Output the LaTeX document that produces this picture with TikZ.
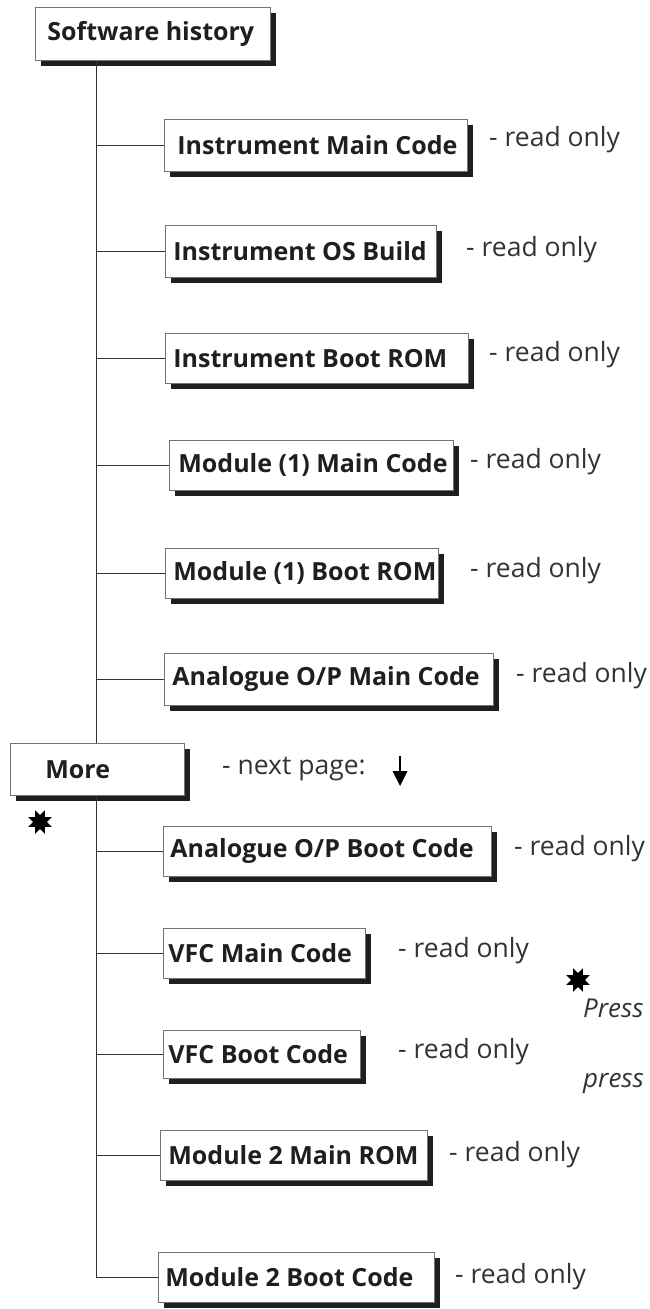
\documentclass[tikz,border=0pt]{standalone}
\usepackage{fontspec}
\setmainfont{Open Sans}
\usetikzlibrary{shadows,shapes.geometric,arrows.meta}
\begin{document}
\begin{tikzpicture}[x=1pt,y=-1pt,
  sbox/.style={draw=black!55, line width=0.8pt, fill=white, anchor=north west,
    inner ysep=0pt, inner xsep=#1,
    font=\fontsize{25}{30}\selectfont\bfseries, text=black!88,
    drop shadow={shadow xshift=6pt, shadow yshift=-6pt, fill=black!88, opacity=1}},
  ro/.style={anchor=west, inner sep=0pt, font=\fontsize{26.5}{30}\selectfont, text=black!80},
  note/.style={anchor=west, inner sep=0pt, font=\fontsize{26}{30}\selectfont\itshape, text=black!80},
  conn/.style={draw=black!80, line width=0.8pt},
  asterisk/.style={star, star points=8, star point ratio=0.55, fill=black, draw=none, minimum size=14pt, inner sep=0pt}
]
\useasboundingbox (0,0) rectangle (650,1309);
\clip (0,0) rectangle (650,1309);
\coordinate (tr) at (96,0);

\node[sbox=12pt, minimum height=53pt] (SH) at (35,7) {\makebox[211pt][l]{Software history}};

\node[sbox=13pt, minimum height=52pt] (IMC) at (164,119) {\makebox[277pt][l]{Instrument Main Code}};
\node[sbox=8pt, minimum height=52pt] (IOSB) at (165,225) {\makebox[255pt][l]{Instrument OS Build}};
\node[sbox=8pt, minimum height=50pt] (IBR) at (165,333) {\makebox[287pt][l]{Instrument Boot ROM}};
\node[sbox=9pt, minimum height=50pt] (M1MC) at (169,440) {\makebox[266pt][l]{Module (1) Main Code}};
\node[sbox=8pt, minimum height=50pt] (M1BR) at (165,548) {\makebox[257pt][l]{Module (1) Boot ROM}};
\node[sbox=8pt, minimum height=52pt] (AOMC) at (164,653) {\makebox[313pt][l]{Analogue O/P Main Code}};
\node[sbox=35pt, minimum height=52pt] (More) at (10,743) {\makebox[104pt][l]{More}};
\node[sbox=7pt, minimum height=50pt] (AOBC) at (163,826) {\makebox[314pt][l]{Analogue O/P Boot Code}};
\node[sbox=5pt, minimum height=50pt] (VFCMC) at (163,928) {\makebox[192pt][l]{VFC Main Code}};
\node[sbox=5pt, minimum height=48pt] (VFCBC) at (163,1030) {\makebox[187pt][l]{VFC Boot Code}};
\node[sbox=8pt, minimum height=50pt] (M2MR) at (160,1130) {\makebox[251pt][l]{Module 2 Main ROM}};
\node[sbox=7pt, minimum height=50pt] (M2BC) at (158,1252) {\makebox[262pt][l]{Module 2 Boot Code}};

% trunk and branches
\draw[conn] (SH.south -| tr) -- (More.north -| tr);
\foreach \n in {IMC,IOSB,IBR,M1MC,M1BR,AOMC,AOBC,VFCMC,VFCBC,M2MR}
  \draw[conn] (\n.west -| tr) -- (\n.west);
\draw[conn] (More.south -| tr) -- (M2BC.west -| tr) -- (M2BC.west);

% read only labels
\node[ro] (r1) at (489,140) {- read only};
\node[ro] (r2) at (466,250) {- read only};
\node[ro] (r3) at (489,355) {- read only};
\node[ro] (r4) at (470,462) {- read only};
\node[ro] (r5) at (470,571) {- read only};
\node[ro] (r6) at (516,676) {- read only};
\node[ro] (r7) at (514,849) {- read only};
\node[ro] (r8) at (398,951) {- read only};
\node[ro] (r9) at (398,1052) {- read only};
\node[ro] (r10) at (449,1155) {- read only};
\node[ro] (r11) at (455,1277) {- read only};

\node[ro] (np) at (222,769) {- next page:};
\coordinate (a1) at (400,756);
\coordinate (a2) at (400,774);
\draw[line width=1.2pt] (a1) -- (a2);
\fill (392.5,771) -- (407.5,771) -- (400,786) -- cycle;

\node[asterisk] (st1) at (40,822) {};
\node[asterisk] (st2) at (578,980) {};
\node[note] (p1) at (583,1008) {Press};
\node[note] (p2) at (583,1084) {press};
\end{tikzpicture}
\end{document}
